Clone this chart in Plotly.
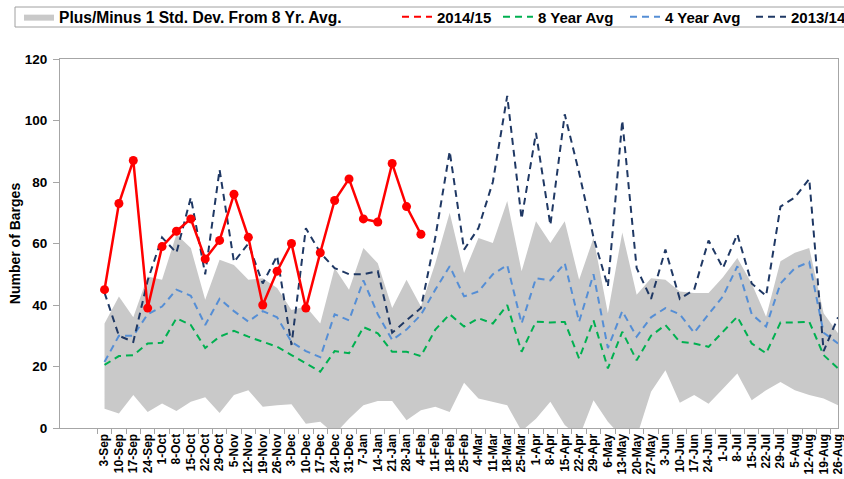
import plotly.graph_objects as go

weeks = ["3-Sep", "10-Sep", "17-Sep", "24-Sep", "1-Oct", "8-Oct", "15-Oct", "22-Oct", "29-Oct",
         "5-Nov", "12-Nov", "19-Nov", "26-Nov", "3-Dec", "10-Dec", "17-Dec", "24-Dec", "31-Dec",
         "7-Jan", "14-Jan", "21-Jan", "28-Jan", "4-Feb", "11-Feb", "18-Feb", "25-Feb", "4-Mar",
         "11-Mar", "18-Mar", "25-Mar", "1-Apr", "8-Apr", "15-Apr", "22-Apr", "29-Apr", "6-May",
         "13-May", "20-May", "27-May", "3-Jun", "10-Jun", "17-Jun", "24-Jun", "1-Jul", "8-Jul",
         "15-Jul", "22-Jul", "29-Jul", "5-Aug", "12-Aug", "19-Aug", "26-Aug"]

band_upper = [34, 42.8, 36, 49.3, 48.2, 63, 58.5, 41.7, 54.7, 53, 48.2, 48.7, 45.5, 38.4, 39.5, 34,
              52, 45, 58.5, 53.6, 39, 48.2, 39.5, 53.6, 70, 50.4, 61.8, 60.2, 73.8, 51, 67.2, 60.2,
              67.2, 48.2, 61.8, 37.3, 63.6, 43.3, 48.7, 48.2, 44.4, 43.9, 43.9, 49, 55.3, 47, 36.2,
              54.2, 57, 58.5, 37.3, 30.8]

band_lower = [6.3, 4.7, 10.7, 5.2, 8, 5.5, 8.5, 10, 4.9, 10.7, 12.3, 6.9, 7.4, 7.7, 1.4, 2,
              -2, 3, 7.4, 8.8, 8.8, 2.5, 5.8, 6.9, 5.2, 14.7, 9.6, 8.5, 7.4, -1, 3, 8.5,
              1, -3, 9, 2, -3, -3, 11.8, 18.8, 8.2, 10.7, 7.9, 12.8, 17.7, 9, 12.3,
              15, 12.3, 10.7, 9.6, 7.4]

avg_8yr = [20.5, 23.4, 23.7, 27.5, 27.7, 35.7, 33.5, 26, 29.7, 31.6, 29.7, 28, 26.4, 23.7, 21, 18.3,
           25, 24.3, 32.8, 30.8, 24.8, 24.8, 23.4, 32, 37, 33, 35.7, 34, 40, 24.8, 34.6, 34.3,
           34.5, 22.6, 35, 19.4, 31.3, 22, 30, 33.5, 28, 27.5, 26.4, 31.3, 36.2, 27.5, 24.3,
           34.3, 34.3, 34.6, 23.7, 19.4]

avg_4yr = [21.5, 30, 30, 37, 39.5, 45, 43, 33.5, 42, 38, 34.6, 38, 36, 28, 25, 23,
           37, 35, 48, 37, 28.6, 32, 36.8, 45, 52.6, 42.8, 44.4, 50, 53, 34, 48.7, 48,
           53.6, 34.6, 50, 26, 38, 29.7, 36, 39, 37, 31, 37, 42.8, 52.6, 37, 33,
           47, 52, 54, 31, 27.5]

season_1314 = [44, 30, 28, 48, 62, 57, 75, 50, 84, 54, 60, 47, 56, 27, 65, 57,
               52, 50, 50, 51, 31, 35, 39, 62, 90, 58, 65, 80, 108, 68, 96, 66,
               102, 83, 62, 46, 100, 52, 42, 58, 42, 45, 61, 52, 63, 47, 43,
               72, 75, 81, 25, 36]

season_1415 = [45, 73, 87, 39, 59, 64, 68, 55, 61, 76, 62, 40, 51, 60, 39, 57,
               74, 81, 68, 67, 86, 72, 63]

FONT = "Liberation Sans, Arial, sans-serif"
GRAY = "#C9C9C9"
RED = "#FF0000"
GREEN = "#00B050"
LBLUE = "#558ED5"
NAVY = "#1F3864"
AXIS = "#A6A6A6"
DASH = "7px,5px"

fig = go.Figure()

fig.add_trace(go.Scatter(x=weeks, y=band_lower, mode="lines",
                         line=dict(width=0, color=GRAY), showlegend=False, hoverinfo="skip"))
fig.add_trace(go.Scatter(x=weeks, y=band_upper, mode="lines", fill="tonexty", fillcolor=GRAY,
                         line=dict(width=0, color=GRAY),
                         name="Plus/Minus 1 Std. Dev. From 8 Yr. Avg.", legend="legend"))
fig.add_trace(go.Scatter(x=weeks, y=avg_8yr, mode="lines",
                         line=dict(color=GREEN, width=2, dash=DASH),
                         name="8 Year Avg", legend="legend3"))
fig.add_trace(go.Scatter(x=weeks, y=avg_4yr, mode="lines",
                         line=dict(color=LBLUE, width=2, dash=DASH),
                         name="4 Year Avg", legend="legend4"))
fig.add_trace(go.Scatter(x=weeks, y=season_1314, mode="lines",
                         line=dict(color=NAVY, width=2, dash=DASH),
                         name="2013/14", legend="legend5"))
fig.add_trace(go.Scatter(x=weeks[:len(season_1415)], y=season_1415, mode="lines+markers",
                         line=dict(color=RED, width=2.5),
                         marker=dict(color=RED, size=9),
                         name="2014/15", showlegend=False))
# legend-only entry for 2014/15 (dashed swatch as in the reference legend)
fig.add_trace(go.Scatter(x=[None], y=[None], mode="lines",
                         line=dict(color=RED, width=2, dash=DASH),
                         name="2014/15", legend="legend2"))

def leg(xpix, size=15):
    return dict(xref="container", yref="container", x=xpix / 844, y=1 - 17 / 479,
                xanchor="left", yanchor="middle", orientation="h",
                bgcolor="rgba(0,0,0,0)", borderwidth=0, itemwidth=30,
                font=dict(family=FONT, size=size, color="#000000", weight="bold"))

fig.update_layout(
    width=844, height=479,
    margin=dict(l=60, r=6, t=59, b=51, autoexpand=False),
    paper_bgcolor="white", plot_bgcolor="white",
    font=dict(family=FONT, color="#000000"),
    legend=leg(19, 15.6), legend2=leg(397), legend3=leg(498), legend4=leg(625), legend5=leg(751),
    xaxis=dict(type="category", tickangle=-90, tickson="boundaries", ticks="outside",
               ticklen=5, tickcolor=AXIS, showline=True, linecolor=AXIS, linewidth=1,
               mirror=True, showgrid=False, automargin=False,
               tickfont=dict(family=FONT, size=12, color="#000000", weight="bold")),
    yaxis=dict(range=[0, 120], dtick=20, ticks="outside", ticklen=6, tickcolor=AXIS,
               ticklabelstandoff=3,
               showline=True, linecolor=AXIS, linewidth=1, mirror=True, showgrid=False,
               zeroline=False, automargin=False,
               tickfont=dict(family=FONT, size=13.5, color="#000000", weight="bold"),
               title=dict(text="Number of Barges", standoff=0,
                          font=dict(family=FONT, size=14, color="#000000", weight="bold"))),
    shapes=[dict(type="rect", xref="paper", yref="paper",
                 x0=(15 - 60) / 778, x1=(846 - 60) / 778,
                 y0=(428 - 27) / 369, y1=(428 - 7) / 369,
                 line=dict(color="#A0A0A0", width=1), fillcolor="rgba(0,0,0,0)")],
)

fig.write_html("out.html", config={"displayModeBar": False},
               post_script="document.body.style.margin='0';document.body.style.padding='0';")
